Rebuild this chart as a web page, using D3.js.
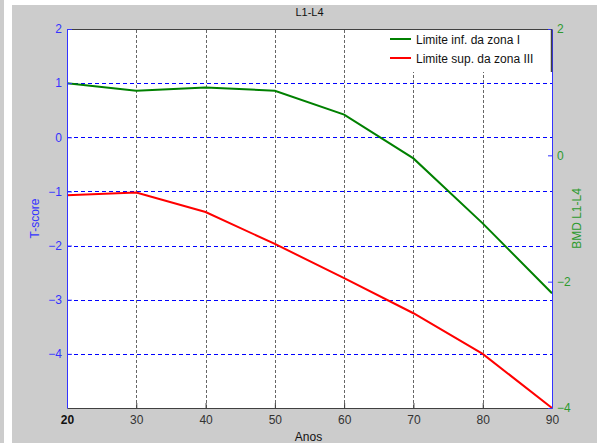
<!DOCTYPE html>
<html>
<head>
<meta charset="utf-8">
<script src="https://d3js.org/d3.v7.min.js"></script>
<style>
    body { margin: 0; background: #ffffff; }
    svg { display: block; font-family: "Liberation Sans", Arial, sans-serif; }
    .vgrid path, .hgrid path { display: none; }
</style>
</head>
<body>
<div id="vis"></div>
<script>
    // data
    var years = [20, 30, 40, 50, 60, 70, 80, 90]
    var limInfZonaI = [1.0, 0.86, 0.92, 0.86, 0.42, -0.39, -1.59, -2.88]
    var limSupZonaIII = [-1.07, -1.02, -1.38, -1.97, -2.60, -3.25, -4.0, -5.0]
    var xTicks = [20, 30, 40, 50, 60, 70, 80, 90]
    var leftTicks = [-4, -3, -2, -1, 0, 1, 2]
    var rightTicks = [-4, -2, 0, 2]
    var legendLabels = ["Limite inf. da zona I", "Limite sup. da zona III"]
    var lineColors = ["#008000", "#ff0000"]

    var W = 597, H = 443
    var margin = {top: 29, right: 45, bottom: 35, left: 67}
    var width = 552 - margin.left
    var height = 408 - margin.top

    var svg = d3.select("#vis").append("svg")
        .attr("width", W).attr("height", H)

    // figure background
    svg.append("rect").attr("x", 0).attr("y", 0).attr("width", 4).attr("height", H).attr("fill", "#cccccc")
    svg.append("rect").attr("x", 12).attr("y", 5).attr("width", W - 12).attr("height", H - 5).attr("fill", "#cccccc")

    var g = svg.append("g").attr("transform", "translate(" + margin.left + "," + margin.top + ")")

    g.append("rect").attr("width", width).attr("height", height).attr("fill", "#ffffff")

    var x = d3.scaleLinear().domain([20, 90]).range([0, width])
    var yL = d3.scaleLinear().domain([-5, 2]).range([height, 0])
    var yR = d3.scaleLinear().domain([-4, 2]).range([height, 0])

    // grid
    g.append("g").attr("class", "vgrid")
        .attr("transform", "translate(0," + height + ")")
        .call(d3.axisBottom(x).tickValues(xTicks.slice(1, -1)).tickSize(-height).tickFormat(""))
        .selectAll(".tick line")
        .attr("stroke", "#666666").attr("stroke-dasharray", "3,2").attr("shape-rendering", "crispEdges")

    g.append("g").attr("class", "hgrid")
        .call(d3.axisLeft(yL).tickValues(leftTicks.slice(0, -1)).tickSize(-width).tickFormat(""))
        .selectAll(".tick line")
        .attr("stroke", "#0000ff").attr("stroke-dasharray", "4,3").attr("shape-rendering", "crispEdges")

    // lines
    var series = [limInfZonaI, limSupZonaIII]
    var line = d3.line()
        .x(function(d, i) { return x(years[i]) })
        .y(function(d) { return yL(d) })

    var clip = g.append("clipPath").attr("id", "plotclip")
    clip.append("rect").attr("x", 0).attr("y", 0).attr("width", width + 1).attr("height", height + 1)

    series.forEach(function(s, k) {
        g.append("path")
            .datum(s)
            .attr("clip-path", "url(#plotclip)")
            .attr("fill", "none")
            .attr("stroke", lineColors[k])
            .attr("stroke-width", 2)
            .attr("d", line)
    })

    // top edge of the box
    g.append("line").attr("x1", 0).attr("x2", width).attr("y1", 0.5).attr("y2", 0.5)
        .attr("stroke", "#404040").attr("shape-rendering", "crispEdges")

    // x axis
    var xAxis = g.append("g")
        .attr("transform", "translate(0," + height + ")")
        .call(d3.axisBottom(x).tickValues(xTicks).tickFormat(d3.format("d"))
            .tickSizeInner(-5).tickSizeOuter(0).tickPadding(7))
    xAxis.select(".domain").attr("stroke", "#404040")
    xAxis.selectAll(".tick line").attr("stroke", "#404040")
    xAxis.selectAll(".tick text").attr("font-size", 12)
        .attr("font-family", "Liberation Sans, Arial, sans-serif")
        .attr("font-weight", function(d) { return d === 20 ? "bold" : null })
        .attr("fill", function(d) { return d === 20 ? "#111111" : "#333333" })

    // left axis
    var yAxisL = g.append("g")
        .call(d3.axisLeft(yL).tickValues(leftTicks).tickFormat(d3.format("d"))
            .tickSizeInner(-5).tickSizeOuter(0).tickPadding(5))
    yAxisL.select(".domain").attr("stroke", "#3333ff")
    yAxisL.selectAll(".tick line").attr("stroke", "#3333ff")
    yAxisL.selectAll(".tick text").attr("fill", "#3333ff").attr("font-size", 12)
        .attr("font-family", "Liberation Sans, Arial, sans-serif")

    // right axis
    var yAxisR = g.append("g")
        .attr("transform", "translate(" + width + ",0)")
        .call(d3.axisRight(yR).tickValues(rightTicks).tickFormat(d3.format("d"))
            .tickSizeInner(-4).tickSizeOuter(0).tickPadding(5))
    yAxisR.select(".domain").attr("stroke", "#3333ff")
    yAxisR.selectAll(".tick line").attr("stroke", "#3333ff")
    yAxisR.selectAll(".tick text").attr("fill", "#2e9a2e").attr("font-size", 12)
        .attr("font-family", "Liberation Sans, Arial, sans-serif")

    // legend
    var lg = g.append("g").attr("transform", "translate(" + (width - 168) + ",0)")
    lg.append("rect").attr("x", 0).attr("y", 1).attr("width", 167).attr("height", 42).attr("fill", "#ffffff")
    lg.append("line").attr("x1", 167.5).attr("x2", 167.5).attr("y1", 0).attr("y2", 43)
        .attr("stroke", "#404040").attr("stroke-width", 1.5)
    legendLabels.forEach(function(lbl, i) {
        var yy = 10 + i * 19
        lg.append("line").attr("x1", 6).attr("x2", 27).attr("y1", yy).attr("y2", yy)
            .attr("stroke", lineColors[i]).attr("stroke-width", 2)
        lg.append("text").attr("x", 32).attr("y", yy + 4.5)
            .attr("font-size", 12).attr("fill", "#111111").text(lbl)
    })

    // titles
    svg.append("text").attr("x", margin.left + width / 2).attr("y", 16)
        .attr("text-anchor", "middle").attr("font-size", 11).attr("fill", "#111111").text("L1-L4")

    svg.append("text").attr("x", margin.left + width / 2 - 1).attr("y", 441)
        .attr("text-anchor", "middle").attr("font-size", 12).attr("fill", "#111111").text("Anos")

    svg.append("text")
        .attr("transform", "translate(39," + (margin.top + height / 2) + ") rotate(-90)")
        .attr("text-anchor", "middle").attr("font-size", 12).attr("fill", "#3333ff").text("T-score")

    svg.append("text")
        .attr("transform", "translate(581," + (margin.top + height / 2) + ") rotate(-90)")
        .attr("text-anchor", "middle").attr("font-size", 12).attr("fill", "#2e9a2e").text("BMD L1-L4")
</script>
</body>
</html>
